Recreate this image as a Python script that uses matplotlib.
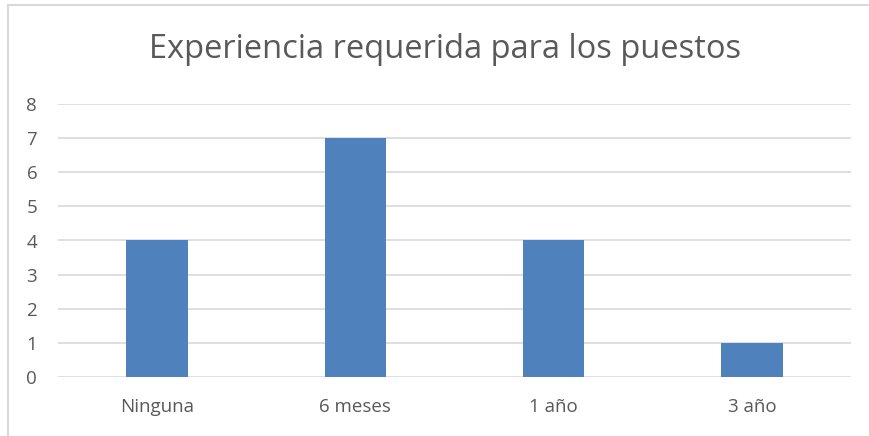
import matplotlib.pyplot as plt
import matplotlib.lines as mlines

# datos
categorias = ['Ninguna', '6 meses', '1 año', '3 año']
valores = [4, 7, 4, 1]
marcas_y = [0, 1, 2, 3, 4, 5, 6, 7, 8]

plt.rcParams['font.family'] = ['Open Sans', 'DejaVu Sans']
gris = '#595959'

fig = plt.figure(figsize=(8.7, 4.36), dpi=100)
ax = fig.add_axes([58/870, 1-377/436, (851-58)/870, (377-104)/436])

x = range(len(categorias))
ax.bar(x, valores, width=0.31, color='#4f81bd', zorder=3)
ax.set_xlim(-0.5, len(categorias)-0.5)
ax.set_ylim(0, 8)
ax.set_yticks(marcas_y)
ax.set_xticks(list(x))
ax.set_xticklabels(categorias)
ax.grid(axis='y', color='#d9d9d9', linewidth=1.2, zorder=0)
for s in ax.spines.values():
    s.set_visible(False)
ax.tick_params(length=0, labelsize=13.5, labelcolor=gris)
ax.tick_params(axis='y', pad=15)
ax.tick_params(axis='x', pad=15)

# título
fig.text(445/870, 1-50/436, 'Experiencia requerida para los puestos', ha='center', va='center',
         fontsize=23.5, color=gris)

# borde del gráfico
fig.add_artist(mlines.Line2D([8/870, 8/870], [0, 1-5/436], color='#d9d9d9', linewidth=1.5))
fig.add_artist(mlines.Line2D([8/870, 1], [1-5/436, 1-5/436], color='#d9d9d9', linewidth=1.5))

plt.savefig('out.png', dpi=100)
